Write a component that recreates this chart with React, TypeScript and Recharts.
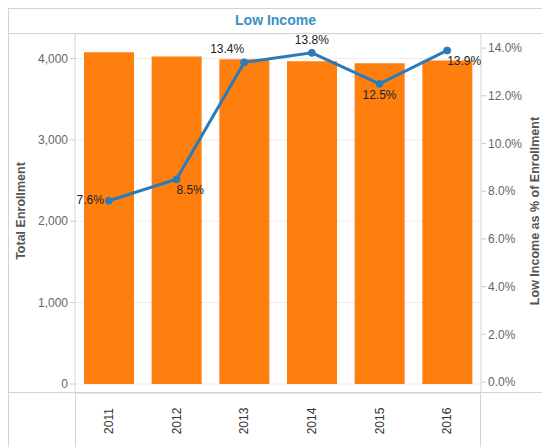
import { ComposedChart, Bar, Line, XAxis, YAxis, CartesianGrid, LabelList } from "recharts";

const years = ["2011", "2012", "2013", "2014", "2015", "2016"];
const enrollment = [4075, 4025, 3990, 3965, 3940, 3975];
const lowIncomePct = [7.6, 8.5, 13.4, 13.8, 12.5, 13.9];
const enrollmentTicks = [0, 1000, 2000, 3000, 4000];
const pctTicks = [0, 2, 4, 6, 8, 10, 12, 14];

// where each line label sits relative to its point
const labelSpots = ["left", "belowRight", "aboveLeft", "above", "below", "belowRight"];

const data = years.map((year, i) => ({
  year,
  enrollment: enrollment[i],
  pct: lowIncomePct[i],
}));

const FONT = "'Liberation Sans', Arial, sans-serif";
const ORANGE = "#ff7f0e";
const BLUE = "#2b7bb9";
const GRID = "#ececec";
const FRAME = "#d4d4d4";

function PointLabel(props: any) {
  const { x, y, value, index } = props;
  const spot = labelSpots[index];
  let tx = x;
  let ty = y;
  let anchor: "start" | "middle" | "end" = "middle";
  if (spot === "left") {
    tx = x - 5;
    ty = y + 3;
    anchor = "end";
  } else if (spot === "belowRight") {
    tx = x;
    ty = y + 15;
    anchor = "start";
  } else if (spot === "aboveLeft") {
    tx = x;
    ty = y - 9;
    anchor = "end";
  } else if (spot === "above") {
    ty = y - 9;
  } else if (spot === "below") {
    ty = y + 15;
  }
  return (
    <text x={tx} y={ty} textAnchor={anchor} fontSize={12} fontFamily={FONT} fill="#222">
      {`${value.toFixed(1)}%`}
    </text>
  );
}

function YearTick(props: any) {
  const { x, y, payload } = props;
  return (
    <text
      x={x}
      y={y + 20}
      transform={`rotate(-90, ${x}, ${y + 20})`}
      textAnchor="middle"
      dominantBaseline="central"
      fontSize={12}
      fontFamily={FONT}
      fill="#333"
    >
      {payload.value}
    </text>
  );
}

function AxisTitle({ x, y, text }: { x: number; y: number; text: string }) {
  return (
    <text
      x={x}
      y={y}
      transform={`rotate(-90, ${x}, ${y})`}
      textAnchor="middle"
      dominantBaseline="central"
      fontSize={12.5}
      fontWeight="bold"
      fontFamily={FONT}
      fill="#555"
    >
      {text}
    </text>
  );
}

export default function App() {
  const tickStyle = { fontSize: 12, fontFamily: FONT, fill: "#666" };
  return (
    <div style={{ width: 542, height: 447, overflow: "hidden", background: "#fff" }}>
      <style>{`body { margin: 0; }`}</style>
      <div
        style={{
          position: "relative",
          marginLeft: 8,
          marginTop: 8,
          width: 534,
          height: 439,
          borderTop: `1px solid ${FRAME}`,
          borderLeft: `1px solid ${FRAME}`,
          boxSizing: "border-box",
          fontFamily: FONT,
        }}
      >
        <div
          style={{
            height: 24,
            borderBottom: `1px solid ${FRAME}`,
            textAlign: "center",
            lineHeight: "22px",
            fontSize: 14,
            fontWeight: "bold",
            color: "#3a8fc3",
          }}
        >
          Low Income
        </div>
        <ComposedChart
          width={533}
          height={414}
          data={data}
          margin={{ top: 0, right: 0, bottom: 0, left: 0 }}
        >
          <CartesianGrid horizontal vertical={false} stroke={GRID} yAxisId="left" />
          <XAxis
            dataKey="year"
            height={55}
            tick={<YearTick />}
            axisLine={{ stroke: FRAME }}
            tickLine={false}
            interval={0}
          />
          <YAxis
            yAxisId="left"
            width={66}
            domain={[-110, 4300]}
            ticks={enrollmentTicks}
            tickFormatter={(v) => v.toLocaleString("en-US")}
            tick={tickStyle}
            tickSize={5}
            axisLine={{ stroke: FRAME }}
            tickLine={{ stroke: "#ccc" }}
            allowDataOverflow
            label={{ content: () => <AxisTitle x={12} y={177} text="Total Enrollment" /> }}
          />
          <YAxis
            yAxisId="right"
            orientation="right"
            width={61}
            domain={[-0.46, 14.59]}
            ticks={pctTicks}
            tickFormatter={(v) => `${v.toFixed(1)}%`}
            tick={tickStyle}
            tickSize={5}
            axisLine={{ stroke: FRAME }}
            tickLine={{ stroke: "#ccc" }}
            allowDataOverflow
            label={{ content: () => <AxisTitle x={526} y={177} text="Low Income as % of Enrollment" /> }}
          />
          <Bar yAxisId="left" dataKey="enrollment" fill={ORANGE} barSize={50} isAnimationActive={false} />
          <Line
            yAxisId="right"
            dataKey="pct"
            stroke={BLUE}
            strokeWidth={3}
            dot={{ r: 3.5, fill: BLUE, stroke: BLUE, strokeWidth: 1 }}
            activeDot={false}
            isAnimationActive={false}
          >
            <LabelList dataKey="pct" content={<PointLabel />} />
          </Line>
        </ComposedChart>
        <div style={{ position: "absolute", left: 66, top: 383, width: 1, height: 55, background: FRAME }} />
        <div style={{ position: "absolute", left: 471, top: 383, width: 1, height: 55, background: FRAME }} />
        <div style={{ position: "absolute", left: 0, top: 383, width: 533, height: 1, background: FRAME }} />
      </div>
    </div>
  );
}
